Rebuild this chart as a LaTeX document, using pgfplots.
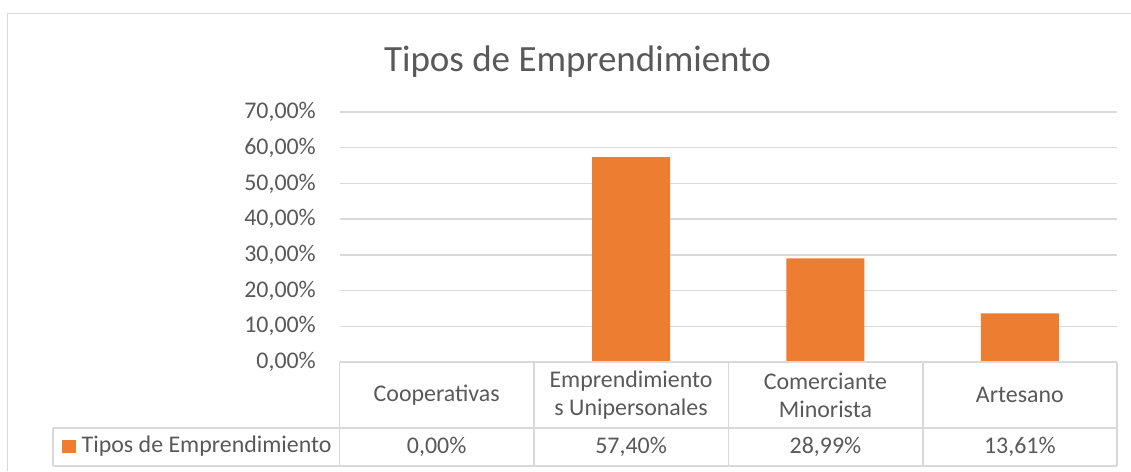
\documentclass[border=0pt]{standalone}
\usepackage{pgfplots}
\pgfplotsset{compat=1.18}
\usepackage{fontspec}
\setmainfont{Carlito}
\definecolor{barorange}{HTML}{ED7D31}
\definecolor{gridgray}{HTML}{D9D9D9}
\definecolor{txtgray}{HTML}{595959}
\newcommand{\tickfont}{\fontsize{23.9}{28}\selectfont}
\begin{document}
\begin{tikzpicture}[x=1pt,y=1pt]
\useasboundingbox[fill=white] (0,0) rectangle (1131,471);
\draw[gridgray, line width=1.4pt] (7.5,0) -- (7.5,457.5) -- (1131,457.5);
\node[anchor=base, text=txtgray, font=\fontsize{37}{44}\selectfont, inner sep=0] at (577.5,399) {Tipos de Emprendimiento};
\begin{axis}[
  at={(339.5pt,109pt)}, anchor=south west,
  scale only axis, width=777.5pt, height=250pt,
  xmin=-0.5, xmax=3.5, ymin=0, ymax=70,
  ybar, bar width=78pt,
  clip=false,
  axis line style={draw=none},
  major tick length=0pt,
  ytick={0,10,20,30,40,50,60,70},
  yticklabels={{0,00\%},{10,00\%},{20,00\%},{30,00\%},{40,00\%},{50,00\%},{60,00\%},{70,00\%}},
  xtick={0,1,2,3},
  xticklabels={{Cooperativas},{Emprendimiento\\s Unipersonales},{Comerciante\\Minorista},{Artesano}},
  tick label style={font=\tickfont, text=txtgray},
  xticklabel style={anchor=center, align=center, yshift=-33pt, inner sep=0},
  yticklabel style={anchor=east, xshift=-23.5pt, inner sep=0},
  ymajorgrids, major grid style={gridgray, line width=1.3pt},
]
\addplot[fill=barorange, draw=none] coordinates {(0,0) (1,57.40) (2,28.99) (3,13.61)};
\node[font=\tickfont, text=txtgray, inner sep=0, yshift=-85pt] at (axis cs:0,0) {0,00\%};
\node[font=\tickfont, text=txtgray, inner sep=0, yshift=-85pt] at (axis cs:1,0) {57,40\%};
\node[font=\tickfont, text=txtgray, inner sep=0, yshift=-85pt] at (axis cs:2,0) {28,99\%};
\node[font=\tickfont, text=txtgray, inner sep=0, yshift=-85pt] at (axis cs:3,0) {13,61\%};
\end{axis}
\begin{scope}[gridgray, line width=1.3pt]
\draw (339.5,109) -- (1117,109);
\draw (53,43) -- (1117,43);
\draw (53,5) -- (1117,5);
\foreach \xx in {339.5,534,728.5,923,1117} {\draw (\xx,109) -- (\xx,5);}
\draw (53,43) -- (53,5);
\end{scope}
\fill[barorange] (62,18) rectangle (75.5,31);
\node[anchor=west, font=\tickfont, text=txtgray, inner sep=0] at (81.5,24.5) {Tipos de Emprendimiento};
\end{tikzpicture}
\end{document}
